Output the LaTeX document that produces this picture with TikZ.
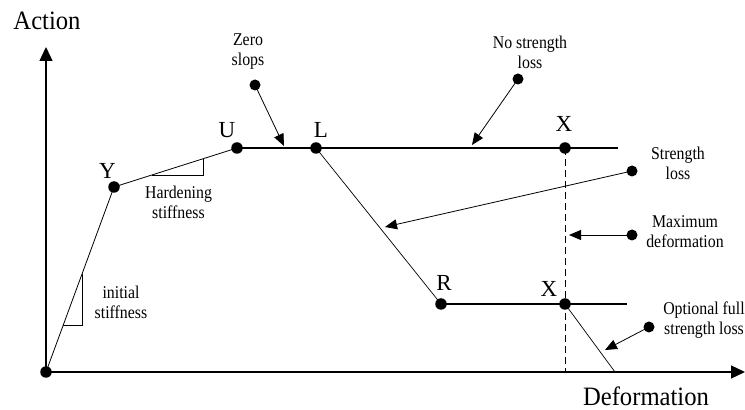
\documentclass[tikz,border=0pt]{standalone}
\usepackage{fontspec}
\setmainfont{Liberation Serif}
\newfontfamily\notefont{Liberation Serif}[FakeStretch=0.88]
\newfontfamily\axisfont{Liberation Serif}[FakeStretch=0.93]
\usetikzlibrary{arrows.meta}

\begin{document}
\begin{tikzpicture}[x=10pt,y=10pt,
    dot/.style={circle,fill=black,inner sep=0pt,minimum size=11.5pt},
    srcdot/.style={circle,fill=black,inner sep=0pt,minimum size=11pt},
    note/.style={align=center,font=\notefont\fontsize{18}{20}\selectfont},
    ptlabel/.style={font=\fontsize{23}{26}\selectfont},
    axislabel/.style={font=\axisfont\fontsize{26.5}{30}\selectfont},
    pointer/.style={-{Triangle[length=12pt,width=10pt]},line width=0.8pt}]

    \useasboundingbox (0,0) rectangle (74.5,41);

    % Points
    \node[dot] (origin) at (4.6,3.8) {};
    \node[dot] (ptY) at (11.4,22.3) {};
    \node[dot] (ptU) at (23.7,26.2) {};
    \node[dot] (ptL) at (31.6,26.2) {};
    \node[dot] (ptXtop) at (56.5,26.2) {};
    \node[dot] (ptR) at (44.1,10.6) {};
    \node[dot] (ptXbot) at (56.5,10.6) {};
    \coordinate (topEnd) at (61.8,26.2);
    \coordinate (botEnd) at (62.7,10.6);
    \coordinate (dropEnd) at (61.5,3.8);

    % Axes
    \coordinate (yTip) at (4.6,36.3);
    \coordinate (xTip) at (74.5,3.8);
    \draw[line width=1.3pt,-{Triangle[length=14pt,width=13pt]}] (origin.center) -- (yTip);
    \draw[line width=1.3pt,-{Triangle[length=14pt,width=13pt]}] (origin.center) -- (xTip);
    \node[axislabel] (actionLabel) at (4.7,38.9) {Action};
    \node[axislabel] (deformLabel) at (64.6,1.4) {Deformation};

    % Backbone curve
    \draw[line width=0.8pt] (origin.center) -- (ptY.center) -- (ptU.center);
    \draw[line width=1.2pt] (ptU.center) -- (topEnd);
    \draw[line width=0.7pt] (ptL.center) -- (ptR.center);
    \draw[line width=1.2pt] (ptR.center) -- (botEnd);
    \draw[line width=0.7pt] (ptXbot.center) -- (dropEnd);
    \draw[line width=0.9pt,dash pattern=on 7pt off 4pt] (ptXtop.center) -- (ptXtop.center |- origin.center);

    % Point labels
    \node[ptlabel] (labY) at (10.75,23.9) {Y};
    \node[ptlabel] (labU) at (22.7,28.0) {U};
    \node[ptlabel] (labL) at (32.1,28.0) {L};
    \node[ptlabel] (labXtop) at (56.4,28.6) {X};
    \node[ptlabel] (labR) at (44.4,12.7) {R};
    \node[ptlabel] (labXbot) at (54.9,12.1) {X};

    % Stiffness triangles
    \draw[line width=0.8pt] (15.2,23.5) -| (20.3,25.1);
    \draw[line width=0.8pt] (6.3,8.5) -| (8.2,13.6);
    \node[note] (hardNote) at (17.85,20.8) {Hardening\\stiffness};
    \node[note] (initNote) at (12.1,10.8) {initial\\stiffness};

    % Notes with pointers
    \node[note] (zeroNote) at (24.8,35.8) {Zero\\slops};
    \node[srcdot] (zeroSrc) at (25.5,32.5) {};
    \coordinate (zeroTip) at (28.4,26.4);
    \draw[pointer] (zeroSrc.center) -- (zeroTip);

    \node[note] (noLossNote) at (53.0,35.8) {No strength\\loss};
    \node[srcdot] (noLossSrc) at (51.8,33.1) {};
    \coordinate (noLossTip) at (47.2,26.5);
    \draw[pointer] (noLossSrc.center) -- (noLossTip);

    \node[note] (lossNote) at (67.8,24.7) {Strength\\loss};
    \node[srcdot] (lossSrc) at (63.2,23.9) {};
    \coordinate (lossTip) at (38.5,18.3);
    \draw[pointer] (lossSrc.center) -- (lossTip);

    \node[note] (maxNote) at (68.5,17.8) {Maximum\\deformation};
    \node[srcdot] (maxSrc) at (63.2,17.5) {};
    \coordinate (maxTip) at (56.9,17.5);
    \draw[pointer] (maxSrc.center) -- (maxTip);

    \node[note] (fullNote) at (70.4,9.0) {Optional full\\strength loss};
    \node[srcdot] (fullSrc) at (64.9,8.3) {};
    \coordinate (fullTip) at (60.5,6.0);
    \draw[pointer] (fullSrc.center) -- (fullTip);

\end{tikzpicture}
\end{document}
